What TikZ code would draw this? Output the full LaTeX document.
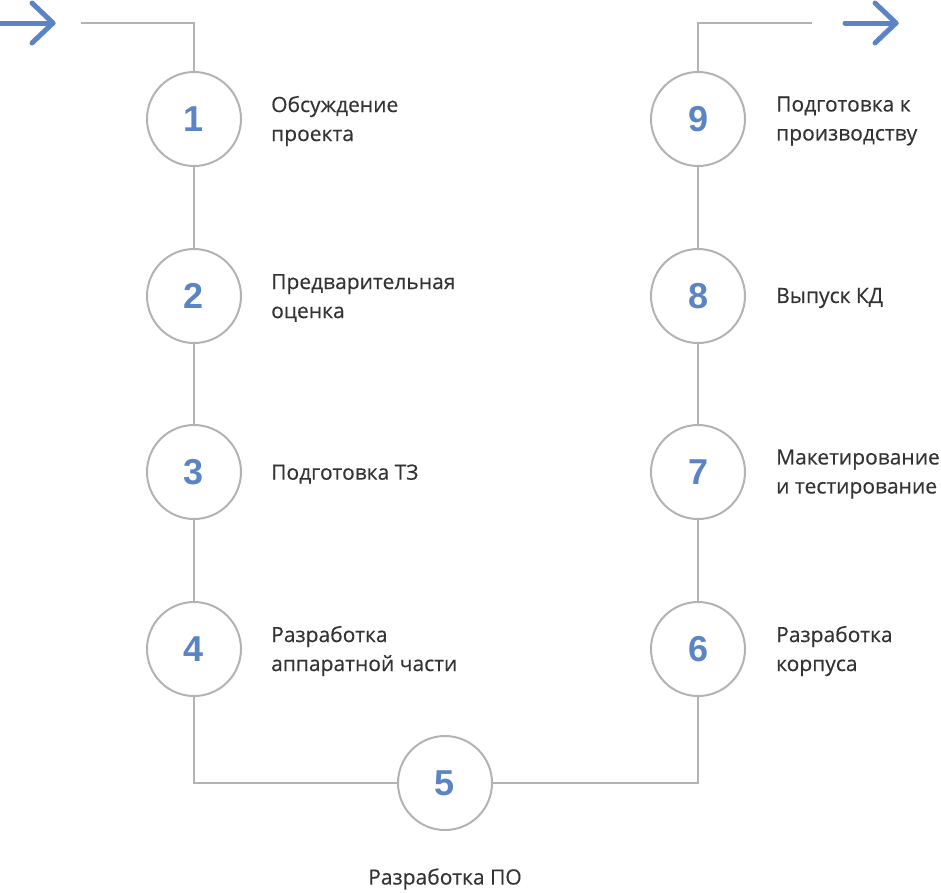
\documentclass[tikz,border=0pt]{standalone}
\usepackage{fontspec}
\setmainfont{Open Sans}
\newfontfamily\numfont{Liberation Sans}
\newfontfamily\lblfont{Open Sans}[FakeBold=0.3]
\definecolor{ringgray}{HTML}{B3B3B3}
\definecolor{numblue}{HTML}{5A84C4}
\definecolor{txtgray}{HTML}{333333}
\tikzset{
  stepcirc/.style={circle, draw=ringgray, line width=2pt, minimum size=94pt, inner sep=0pt,
    font=\numfont\fontsize{36}{36}\selectfont\bfseries, text=numblue},
  steplabel/.style={anchor=west, align=left, inner sep=0pt, text=txtgray,
    font=\lblfont\fontsize{21}{29}\selectfont},
  conn/.style={draw=ringgray, line width=2pt},
  bluearrow/.style={draw=numblue, line width=5pt, line cap=round, line join=round}
}
\begin{document}
\begin{tikzpicture}[x=1pt,y=-1pt]
\useasboundingbox (0,0) rectangle (941,892);
% circles
\node[stepcirc] (c1) at (194,119) {1};
\node[stepcirc] (c2) at (194,296) {2};
\node[stepcirc] (c3) at (194,472) {3};
\node[stepcirc] (c4) at (194,649) {4};
\node[stepcirc] (c5) at (445,783) {5};
\node[stepcirc] (c6) at (698,649) {6};
\node[stepcirc] (c7) at (698,472) {7};
\node[stepcirc] (c8) at (698,296) {8};
\node[stepcirc] (c9) at (698,119) {9};
% labels
\node[steplabel] (l1) at (271,121) {Обсуждение\\проекта};
\node[steplabel] (l2) at (271,298) {Предварительная\\оценка};
\node[steplabel] (l3) at (271,474) {Подготовка ТЗ};
\node[steplabel] (l4) at (271,651) {Разработка\\аппаратной части};
\node[steplabel, anchor=center] (l5) at (445,879) {Разработка ПО};
\node[steplabel] (l6) at (776,651) {Разработка\\корпуса};
\node[steplabel] (l7) at (776,474) {Макетирование\\и тестирование};
\node[steplabel] (l8) at (776,298) {Выпуск КД};
\node[steplabel] (l9) at (776,121) {Подготовка к\\производству};
% coordinates
\coordinate (inA) at (81,23);
\coordinate (outB) at (812,23);
% connectors
\draw[conn] (inA) -| (c1.north);
\draw[conn] (c1) -- (c2);
\draw[conn] (c2) -- (c3);
\draw[conn] (c3) -- (c4);
\draw[conn] (c4.south) |- (c5.west);
\draw[conn] (c5.east) -| (c6.south);
\draw[conn] (c6) -- (c7);
\draw[conn] (c7) -- (c8);
\draw[conn] (c8) -- (c9);
\draw[conn] (c9.north) |- (outB);
% arrows
\coordinate (a1s) at (0,23);
\coordinate (a1t) at (53,23);
\coordinate (a1u) at (32,3);
\coordinate (a1d) at (32,43);
\draw[bluearrow] (a1s) -- (a1t);
\draw[bluearrow] (a1u) -- (a1t) -- (a1d);
\coordinate (a2s) at (845,23);
\coordinate (a2t) at (896,23);
\coordinate (a2u) at (875,3);
\coordinate (a2d) at (875,43);
\draw[bluearrow] (a2s) -- (a2t);
\draw[bluearrow] (a2u) -- (a2t) -- (a2d);
\end{tikzpicture}
\end{document}
